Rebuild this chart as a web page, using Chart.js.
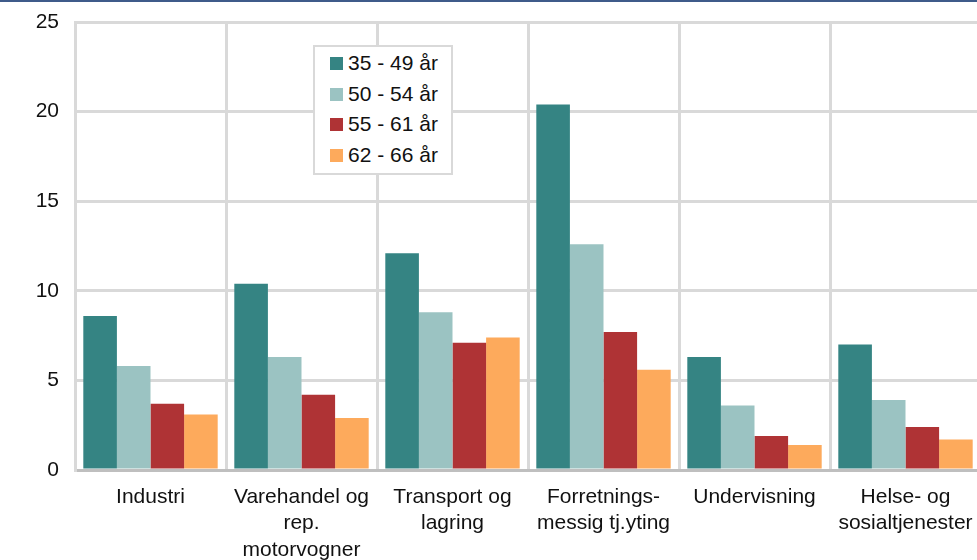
<!DOCTYPE html>
<html>
<head>
<meta charset="utf-8">
<script src="https://cdn.jsdelivr.net/npm/chart.js@4"></script>
<style>
    html, body { margin: 0; padding: 0; background: #fff; }
    body { width: 977px; height: 560px; overflow: hidden; position: relative; }
    #topLine { position: absolute; left: 0; top: 0; width: 977px; height: 2px; background: #3f5b8a; z-index: 2; }
    #wrap { position: absolute; left: 0; top: 0; width: 990px; height: 560px; }
    #legend {
        position: absolute; left: 313px; top: 45px; width: 136px; height: 126px;
        border: 2px solid #d9d9d9; background: #fff; z-index: 3;
        font-family: "Liberation Sans", Arial, sans-serif; font-size: 21px; color: #111;
    }
    #legend .item { position: absolute; left: 15px; height: 24px; line-height: 24px; white-space: nowrap; }
    #legend .sw { display: inline-block; width: 13px; height: 13px; margin-right: 5px; vertical-align: 0px; }
</style>
</head>
<body>
<div id="topLine"></div>
<div id="wrap"><canvas id="chart" width="990" height="560"></canvas></div>
<div id="legend"></div>
<script>
const categories = [
    "Industri",
    ["Varehandel og", "rep.", "motorvogner"],
    ["Transport og", "lagring"],
    ["Forretnings-", "messig tj.yting"],
    "Undervisning",
    ["Helse- og", "sosialtjenester"]
];
const seriesNames = ["35 - 49 år", "50 - 54 år", "55 - 61 år", "62 - 66 år"];
const age35to49 = [8.6, 10.4, 12.1, 20.4, 6.3, 7.0];
const age50to54 = [5.8, 6.3, 8.8, 12.6, 3.6, 3.9];
const age55to61 = [3.7, 4.2, 7.1, 7.7, 1.9, 2.4];
const age62to66 = [3.1, 2.9, 7.4, 5.6, 1.4, 1.7];
const yTicks = [0, 5, 10, 15, 20, 25];
const colors = ["#358483", "#9bc3c2", "#af3335", "#fdaa5c"];

const seriesData = [age35to49, age50to54, age55to61, age62to66];
const font = { family: "'Liberation Sans', Arial, sans-serif", size: 21 };

const chart = new Chart(document.getElementById("chart").getContext("2d"), {
    type: "bar",
    data: {
        labels: categories,
        datasets: seriesData.map((d, i) => ({
            label: seriesNames[i],
            data: d,
            backgroundColor: colors[i],
            borderWidth: 0,
            categoryPercentage: 0.89,
            barPercentage: 1.0
        }))
    },
    options: {
        responsive: false,
        animation: false,
        layout: { padding: { top: 22, right: 9, left: 0, bottom: 0 } },
        plugins: {
            legend: { display: false },
            tooltip: { enabled: false }
        },
        scales: {
            x: {
                grid: { offset: true, color: "#d9d9d9", lineWidth: 3, drawTicks: false },
                border: { color: "#bfbfbf", width: 3 },
                ticks: { font: { ...font, lineHeight: 1.26 }, color: "#111", padding: 14, maxRotation: 0, autoSkip: false },
                afterFit: (s) => { s.height = 90; s.paddingLeft = 0; s.paddingRight = 0; }
            },
            y: {
                min: 0,
                max: 25,
                afterBuildTicks: (s) => { s.ticks = yTicks.map(v => ({ value: v })); },
                grid: { color: "#d9d9d9", lineWidth: 3, drawTicks: false },
                border: { color: "#d9d9d9", width: 3 },
                ticks: { font: font, color: "#111", padding: 16 },
                // label overflow should not push the plot area down
                afterFit: (s) => { s.width = 75; s.paddingTop = 0; s.paddingBottom = 0; }
            }
        }
    }
});

// legend box, built from the datasets
const legendBox = document.getElementById("legend");
chart.data.datasets.forEach((ds, i) => {
    const item = document.createElement("div");
    item.className = "item";
    item.style.top = (4 + i * 30.5) + "px";
    item.innerHTML = `<span class="sw" style="background:${ds.backgroundColor}"></span>${ds.label}`;
    legendBox.appendChild(item);
});
</script>
</body>
</html>
